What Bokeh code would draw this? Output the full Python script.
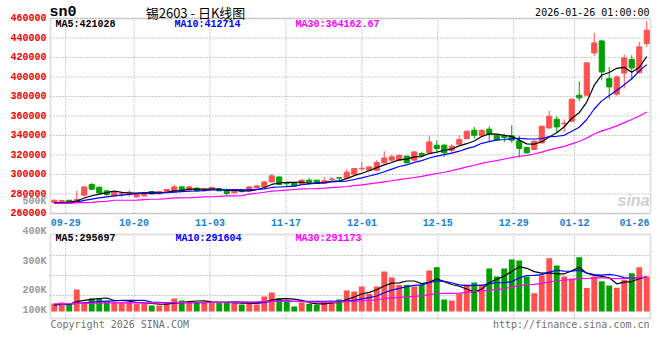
from bokeh.plotting import figure
from bokeh.models import Range1d, Label, ColumnDataSource, BoxAnnotation
from bokeh.core.properties import value
from bokeh.embed import file_html
from bokeh.resources import INLINE

# ---------------- data ----------------
tick_idx = [2, 11, 21, 31, 41, 51, 61, 69, 79]
tick_lbl = ["09-29", "10-20", "11-03", "11-17", "12-01", "12-15", "12-29", "01-12", "01-26"]
price_ticks = [260000, 280000, 300000, 320000, 340000, 360000, 380000, 400000, 420000, 440000, 460000]
vol_labels = ["500K", "400K", "300K", "200K", "100K"]

opens = [271500, 272700, 273600, 272000, 278800, 289700, 287000, 283200, 278100, 279800,
         279400, 277100, 278100, 282500, 280100, 282200, 282200, 287300, 283900, 286000,
         283500, 284600, 285300, 283900, 281200, 284200, 283200, 286600, 287300, 292400,
         297500, 290800, 291500, 289700, 294200, 294200, 290800, 295000, 296700, 296500,
         300300, 305900, 304400, 304400, 311900, 314700, 314700, 318800, 314700, 321500,
         322200, 330000, 330100, 324900, 331100, 336900, 345400, 339600, 346500, 340300,
         339300, 339600, 334500, 327700, 325600, 332400, 347800, 356700, 352000, 354700,
         381300, 381300, 424700, 437000, 398400, 382400, 404000, 418000, 404500, 434400]
highs = [274500, 274000, 274000, 283500, 287500, 291400, 287500, 283900, 283000, 282500,
         283900, 280500, 282000, 283000, 283000, 285000, 289400, 287800, 287800, 286500,
         286300, 287500, 285600, 285600, 284000, 285000, 288000, 289000, 293400, 300300,
         298000, 292400, 292000, 295000, 296200, 294500, 297500, 297500, 297500, 305500,
         306500, 312900, 308500, 314700, 323900, 320500, 320300, 319500, 323800, 323200,
         339600, 335000, 331100, 331100, 340300, 345000, 348800, 346500, 349500, 341000,
         342000, 350600, 339600, 328500, 335000, 350000, 365200, 359800, 356400, 377500,
         395700, 415000, 445200, 438300, 410300, 401500, 423100, 422400, 436000, 457200]
lows = [270500, 272000, 270800, 271200, 278500, 283900, 280500, 277800, 277800, 276700,
        277100, 276500, 277500, 279500, 279800, 281800, 281800, 282500, 283500, 282800,
        282200, 284200, 282800, 278800, 280500, 281500, 282500, 286000, 287000, 292000,
        289000, 287300, 287500, 289300, 289700, 290300, 290500, 293500, 294200, 295500,
        300000, 303700, 304000, 304000, 311500, 313000, 314500, 311500, 314300, 318100,
        321800, 323900, 318100, 321500, 330500, 336000, 336900, 338500, 333400, 334500,
        333400, 332400, 317400, 321500, 325000, 332000, 347000, 342700, 343700, 354000,
        375200, 381000, 421600, 396700, 377200, 381000, 388200, 396700, 403500, 430900]
closes = [273600, 273200, 271200, 274300, 287300, 284900, 281100, 279500, 282500, 280300,
          281800, 279800, 281500, 280100, 282500, 284600, 287300, 283200, 287300, 283200,
          284600, 286600, 283200, 280500, 283200, 282500, 287300, 288300, 292400, 298600,
          289700, 290500, 288300, 294200, 291500, 290800, 293500, 295400, 296300, 302400,
          306200, 306400, 307800, 312300, 317000, 318100, 319800, 311900, 323200, 319100,
          333400, 326700, 322200, 329000, 335900, 344400, 340300, 345400, 342000, 335200,
          337900, 335200, 326700, 322200, 334200, 349500, 359800, 348800, 352600, 377200,
          378600, 414500, 435000, 405200, 389800, 400100, 419600, 409300, 430900, 448000]
volumes = [68000, 77000, 66000, 188000, 80000, 111000, 111000, 88000, 80000, 80000,
           80000, 66000, 66000, 51000, 51000, 77000, 111000, 94000, 86000, 80000,
           80000, 74000, 77000, 74000, 74000, 60000, 77000, 60000, 128000, 162000,
           111000, 86000, 43000, 77000, 66000, 57000, 86000, 80000, 103000, 180000,
           171000, 214000, 151000, 214000, 342000, 291000, 228000, 228000, 214000, 228000,
           351000, 379000, 103000, 94000, 154000, 231000, 248000, 231000, 368000, 299000,
           368000, 445000, 436000, 299000, 156000, 308000, 456000, 393000, 299000, 282000,
           464000, 201000, 299000, 258000, 222000, 203000, 271000, 327000, 378000, 299000]
ma5 = [270800, 271400, 271800, 272800, 275900, 278200, 279800, 281400, 283100, 281700,
       281000, 280800, 281200, 280700, 281100, 281700, 283200, 283500, 285000, 285100,
       285100, 285000, 285000, 283600, 283600, 283200, 283300, 284400, 286700, 289800,
       291300, 291900, 291900, 292300, 290800, 291100, 291700, 293100, 293500, 295700,
       298800, 301300, 303800, 307000, 309900, 312300, 315000, 315800, 318000, 318400,
       321500, 322900, 324900, 326100, 329400, 331600, 334400, 339000, 341600, 341500,
       340200, 339100, 335400, 331400, 331200, 333600, 338500, 342900, 349000, 357600,
       363400, 374300, 391600, 402100, 404600, 408900, 409900, 404800, 409900, 421028]
ma10 = [270300, 270500, 270700, 271700, 273500, 274800, 276000, 277000, 278000, 278800,
        279600, 280300, 281300, 281900, 281400, 281400, 282000, 282400, 282800, 283100,
        283400, 284100, 284300, 284300, 284400, 284200, 284200, 284700, 285200, 286700,
        287200, 287600, 288100, 289500, 290300, 291200, 291800, 292500, 292900, 293300,
        294900, 296500, 298500, 300300, 302800, 305500, 308200, 309800, 312500, 314200,
        316900, 318900, 320400, 322000, 323900, 326600, 328600, 332000, 333800, 335500,
        335900, 336800, 337200, 336500, 336400, 336900, 338800, 339200, 340200, 344400,
        348500, 356400, 367200, 375500, 381100, 386200, 392100, 398200, 406000, 412714]
ma30 = [270300, 270300, 270300, 271200, 271200, 271500, 272200, 272500, 273600, 273600,
        273600, 273800, 274200, 274600, 274800, 275200, 276000, 276000, 276200, 276500,
        277000, 277200, 277500, 278000, 278000, 278300, 279800, 280800, 281800, 282900,
        283400, 284000, 284600, 285200, 285400, 285600, 286000, 286500, 287000, 287700,
        288500, 289400, 290300, 291400, 292500, 293600, 294700, 295700, 296900, 298100,
        299700, 301000, 302300, 303900, 305700, 307800, 309500, 311400, 313100, 314300,
        315900, 317400, 318700, 319600, 321000, 323000, 325200, 327000, 328900, 331400,
        333800, 337400, 341600, 344700, 347100, 349900, 353200, 356400, 360000, 364163]
vma5 = [55000, 60000, 62000, 85000, 95800, 104400, 111200, 115600, 94000, 94000,
        87800, 78800, 74400, 68600, 62800, 62200, 71200, 76800, 83800, 89600,
        90200, 82800, 79400, 77000, 75800, 71800, 72400, 69000, 79800, 97400,
        107600, 109400, 106000, 95800, 76600, 65800, 65800, 73200, 78400, 101200,
        124000, 149600, 163800, 186000, 218400, 242400, 245200, 260600, 260600, 237800,
        249800, 280000, 255000, 231000, 216200, 192200, 166000, 191600, 246400, 275400,
        302800, 342200, 383200, 369400, 340800, 328800, 331000, 322400, 322400, 347600,
        378800, 327800, 309000, 300800, 288800, 236600, 250600, 256200, 280200, 295697]
vma10 = [60000, 62000, 63000, 70000, 74000, 80000, 85000, 88000, 90000, 94900,
         96100, 95000, 95000, 81300, 78400, 75000, 75000, 75600, 76200, 76200,
         76200, 77000, 78100, 80400, 82700, 81000, 77600, 74200, 78400, 86600,
         89700, 90900, 87500, 87800, 87000, 86700, 87600, 89600, 87100, 88900,
         94900, 107700, 118500, 132200, 159800, 183200, 197400, 212200, 223300, 228100,
         246100, 262600, 257800, 245800, 227000, 221000, 223000, 223300, 238700, 245800,
         247500, 254100, 287400, 307900, 308100, 315800, 336600, 352800, 345900, 344200,
         353800, 329400, 315700, 311600, 318200, 307700, 289200, 282600, 290500, 291604]
vma30 = [66000, 66000, 67000, 69000, 70000, 71000, 72000, 73000, 73000, 74000,
         74000, 74000, 74000, 74000, 74000, 75000, 75000, 76000, 76000, 77000,
         77000, 78000, 78000, 79000, 79000, 80000, 81000, 82000, 84000, 85900,
         87300, 87600, 86900, 83200, 82700, 80900, 80100, 79800, 80600, 83900,
         86900, 91900, 94700, 100100, 109800, 117000, 120900, 125300, 129600, 134500,
         143600, 153700, 154600, 155300, 157900, 163600, 169300, 175000, 183000, 187600,
         196200, 208100, 221200, 228600, 231600, 240000, 252300, 262800, 269300, 272700,
         282500, 282000, 287000, 288400, 284400, 281500, 282900, 286200, 291700, 291173]

price_ma_text = ["MA5:421028", "MA10:412714", "MA30:364162.67"]
vol_ma_text = ["MA5:295697", "MA10:291604", "MA30:291173"]
symbol = "sn0"
title = "锡2603 - 日K线图"
stamp = "2026-01-26 01:00:00"
copyright_txt = "Copyright 2026 SINA.COM"
url_txt = "http://finance.sina.com.cn"

# ---------------- layout (pixels) ----------------
W, H = 652, 340
PX_LEFT, SLOT = 50, 7.5            # price/volume panels start at x=50, 7.5 px per day
P_TOP, P_BOT = 18, 213             # price panel top / bottom (px from top)
V_TOP, V_BASE, V_BOT = 234, 311, 318   # volume panel top, bar baseline, bottom
V_PER_PX = 8550                    # volume units per pixel

UP, DN = "#ff5050", "#00a000"
GRID, BORDER = "#9a9a9a", "#9a9a9a"
RED_TXT, BLUE_TXT, GRAY_TXT = "#ee0000", "#1e7fd0", "#9a9a9a"
MONO, MONO2 = "Liberation Mono", "DejaVu Sans Mono"
MA_COLORS = ["#000000", "#0000ff", "#ff00ff"]

n = len(closes)
p_lo, p_hi = price_ticks[0], price_ticks[-1]
k = (p_hi - p_lo) / (P_BOT - P_TOP)
x0 = (0 - PX_LEFT) / SLOT - 0.5
x1 = (W - PX_LEFT) / SLOT - 0.5
y_range = Range1d(p_lo - (H - P_BOT) * k, p_hi + P_TOP * k)
vol_range = Range1d(-(H - V_BASE) * V_PER_PX, V_BASE * V_PER_PX)
v_top = (V_BASE - V_TOP) * V_PER_PX
v_bot = -(V_BOT - V_BASE) * V_PER_PX

p = figure(width=W, height=H, x_range=Range1d(x0, x1), y_range=y_range,
           output_backend="svg", toolbar_location=None, min_border=0,
           x_axis_location=None, y_axis_location=None,
           outline_line_color=None, background_fill_color="white", border_fill_color="white")
p.extra_y_ranges = {"vol": vol_range}
p.grid.visible = False

colors = [UP if c >= o else DN for o, c in zip(opens, closes)]
src = ColumnDataSource(dict(
    x=list(range(n)), h=highs, l=lows,
    top=[max(o, c) for o, c in zip(opens, closes)],
    bot=[min(o, c) for o, c in zip(opens, closes)],
    color=colors, vol=volumes,
    ma5=ma5, ma10=ma10, ma30=ma30, vma5=vma5, vma10=vma10, vma30=vma30))

# grid (Sina spreads date gridlines over n-1 intervals of the panel width)
gx = [d * n / (n - 1) - 0.5 for d in tick_idx]
left_edge, right_edge = -0.5, n - 0.5
dash = "1 2"
p.segment(x0=[left_edge] * len(price_ticks), x1=[right_edge] * len(price_ticks),
          y0=price_ticks, y1=price_ticks, color=GRID, line_dash=dash, line_width=1)
p.segment(x0=gx[:-1], x1=gx[:-1], y0=[p_lo] * (len(gx) - 1), y1=[p_hi] * (len(gx) - 1),
          color=GRID, line_dash=dash, line_width=1)
p.segment(x0=gx[:-1], x1=gx[:-1], y0=[v_bot] * (len(gx) - 1), y1=[v_top] * (len(gx) - 1),
          color=GRID, line_dash=dash, line_width=1, y_range_name="vol")
vgrid = [(V_BASE - yy) * V_PER_PX for yy in (295, 275, 255)]
p.segment(x0=[left_edge] * 3, x1=[right_edge] * 3, y0=vgrid, y1=vgrid,
          color=GRID, line_dash=dash, line_width=1, y_range_name="vol")

# candles
p.segment(x0="x", y0="l", x1="x", y1="h", color="color", line_width=1, source=src)
p.vbar(x="x", width=0.68, top="top", bottom="bot", fill_color="color",
       line_color="color", line_width=1, source=src)
for key, col in zip(["ma5", "ma10", "ma30"], MA_COLORS):
    p.line("x", key, color=col, line_width=1.2, source=src)

# volume
p.vbar(x="x", width=0.78, top="vol", bottom=0, fill_color="color", line_color=None,
       source=src, y_range_name="vol")
for key, col in zip(["vma5", "vma10", "vma30"], MA_COLORS):
    p.line("x", key, color=col, line_width=1.2, source=src, y_range_name="vol")

# panel borders
p.add_layout(BoxAnnotation(left=left_edge, right=right_edge, bottom=p_lo, top=p_hi,
                           fill_color=None, line_color=BORDER, line_width=2))
p.add_layout(BoxAnnotation(left=left_edge, right=right_edge, bottom=v_bot, top=v_top,
                           fill_color=None, line_color=BORDER, line_width=2, y_range_name="vol"))

# price axis labels
p.text(x=[left_edge] * len(price_ticks), y=price_ticks, text=[str(v) for v in price_ticks],
       x_offset=-4, y_offset=-1, text_align="right", text_baseline="middle",
       text_font=value(MONO), text_font_size="10px", text_font_style="bold", text_color=RED_TXT)
# date labels (last one kept inside the chart)
p.text(x=gx, y=[p_lo] * len(gx), text=tick_lbl,
       x_offset=[0] * (len(gx) - 1) + [-16], y_offset=8.5,
       text_align="center", text_baseline="middle",
       text_font=value(MONO), text_font_size="10px", text_font_style="bold", text_color=BLUE_TXT)


def lab(x, y_from_top, text, color="#000000", size="10px", font=MONO, align="left", style="bold"):
    p.add_layout(Label(x=x, y=H - y_from_top, x_units="screen", y_units="screen", text=text,
                       text_color=color, text_font_size=size, text_font=font,
                       text_align=align, text_baseline="middle", text_font_style=style))


lab(49, 12.3, symbol, size="15px")
lab(195, 11.5, title, size="13px", font="Noto Sans CJK SC", align="center", style="normal")
lab(649, 12, stamp, font=MONO2, align="right", style="normal")
for t, xx, col in zip(price_ma_text, [55, 174, 295], MA_COLORS):
    lab(xx, 23.7, t, color=col)
for t, xx, col in zip(vol_ma_text, [55, 175, 295], MA_COLORS):
    lab(xx, 238.3, t, color=col)
for t, yy in zip(vol_labels, [200.7, 230.7, 260.7, 290, 310]):
    lab(46, yy, t, color=GRAY_TXT, align="right")
lab(50, 324, copyright_txt, color="#707070", font=MONO2, style="normal")
lab(649, 324, url_txt, color="#707070", font=MONO2, align="right", style="normal")
lab(649, 200, "sina", color="#cfcfcf", size="16px", font="Liberation Sans", align="right",
    style="bold italic")

open("out.html", "w").write(file_html(p, INLINE))
